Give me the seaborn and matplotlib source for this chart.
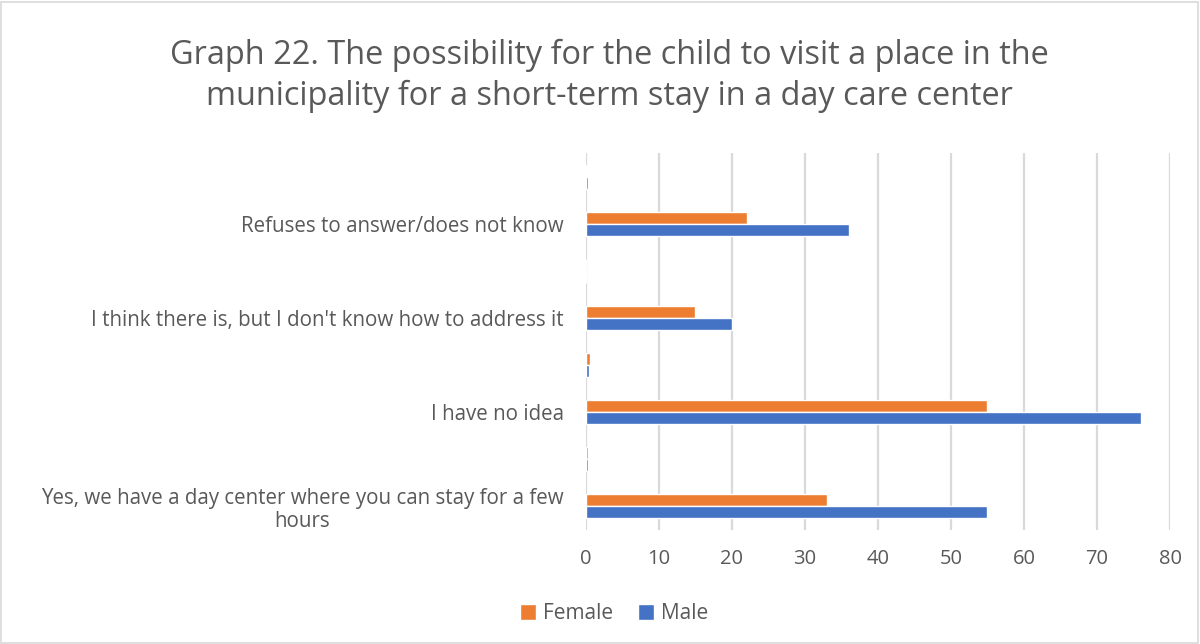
import matplotlib
matplotlib.use("Agg")
import matplotlib.pyplot as plt
import seaborn as sns
import pandas as pd
from matplotlib.patches import Rectangle, Patch

# Data (top to bottom as displayed)
categories = ["c0", "Refuses to answer/does not know", "c2",
              "I think there is, but I don't know how to address it", "c4",
              "I have no idea", "c6",
              "Yes, we have a day center where you can stay for a few\nhours"]
tick_labels = ["", "Refuses to answer/does not know", "",
               "I think there is, but I don't know how to address it", "",
               "I have no idea", "",
               "Yes, we have a day center where you can stay for a few\nhours"]
female = [0.15, 22, 0, 15, 0.5, 55, 0.3, 33]
male = [0.3, 36, 0, 20, 0.4, 76, 0.3, 55]
series = ["Female", "Male"]
colors = {"Female": "#ED7D31", "Male": "#4472C4"}
xticks = [0, 10, 20, 30, 40, 50, 60, 70, 80]

df = pd.DataFrame({
    "category": categories * 2,
    "value": female + male,
    "series": ["Female"] * len(categories) + ["Male"] * len(categories),
})

sns.set_theme(style="white")
plt.rcParams["font.family"] = ["Open Sans", "DejaVu Sans"]
text_color = "#595959"

fig = plt.figure(figsize=(12, 6.44), dpi=100)
ax = fig.add_axes([0.4883, 0.177, 0.4867, 0.5854])

sns.barplot(data=df, y="category", x="value", hue="series", order=categories,
            hue_order=series, palette=colors, orient="h", width=0.51,
            ax=ax, legend=False, saturation=1)

ax.set_xlim(0, 80)
ax.set_xticks(xticks)
ax.set_xticklabels([str(t) for t in xticks], fontsize=14.5, color=text_color)
ax.set_yticks(range(len(categories)))
ax.set_yticklabels(tick_labels, fontsize=14.8, color=text_color, multialignment="center",
                   linespacing=1.15)
ax.set_xlabel("")
ax.set_ylabel("")
ax.tick_params(axis="both", length=0)
ax.tick_params(axis="x", pad=14)
ax.tick_params(axis="y", pad=16)
ax.grid(axis="x", color="#d9d9d9", linewidth=1.6)
ax.set_axisbelow(True)
for s in ax.spines.values():
    s.set_visible(False)
ax.set_ylim(len(categories) - 0.5, -0.5)

fig.text(0.508, 0.882, "Graph 22. The possibility for the child to visit a place in the\nmunicipality for a short-term stay in a day care center",
         ha="center", va="center", fontsize=23.4, color=text_color, linespacing=1.3)

handles = [Patch(facecolor=colors[s], label=s) for s in series]
fig.legend(handles=handles, loc="center", bbox_to_anchor=(0.512, 0.047), ncol=2,
           frameon=False, fontsize=15, labelcolor=text_color,
           handlelength=0.75, handleheight=0.75, handletextpad=0.35, columnspacing=1.2)

fig.add_artist(Rectangle((0.001, 0.002), 0.997, 0.995, transform=fig.transFigure,
                         fill=False, edgecolor="#d9d9d9", linewidth=1.2))

fig.savefig("out.png", dpi=100)
